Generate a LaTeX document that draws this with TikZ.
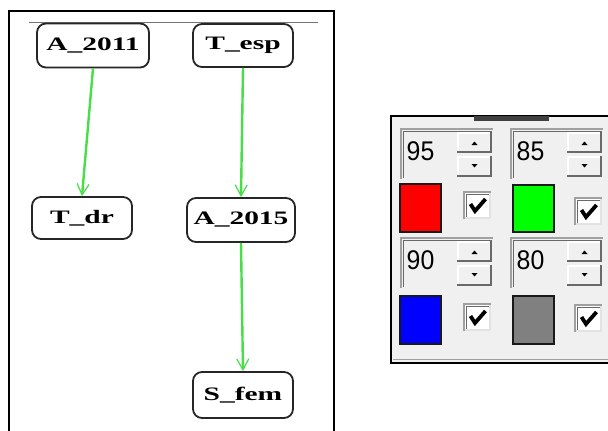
\documentclass[tikz,border=0pt]{standalone}
\usepackage{graphicx}
\usepackage{fontspec}
\setmainfont{Liberation Serif}
\newfontfamily\uifont{Liberation Sans}
\usetikzlibrary{arrows.meta}

\definecolor{edgegreen}{RGB}{72,222,72}
\definecolor{panel}{RGB}{240,240,240}
\definecolor{bevel}{RGB}{160,160,160}
\definecolor{bevdark}{RGB}{105,105,105}
\definecolor{bevlight}{RGB}{227,227,227}

\begin{document}
\begin{tikzpicture}[x=1pt,y=-1pt,
  var/.style={draw=black!85,line width=1.8pt,rounded corners=9pt,fill=white,
    inner sep=0pt,font=\fontsize{19}{19}\selectfont\bfseries},
  link/.style={draw=edgegreen,line width=2.4pt,
    -{Straight Barb[length=11pt,width=12pt,line width=1.2pt]}},
  swatch/.style={draw=black!90,line width=1.5pt},
  spinner/.pic={
    % sunken frame of the number field
    \draw[bevel,line width=2.5pt] (1.2,51) -- (1.2,1.2) -- (93,1.2);
    \draw[bevdark,line width=1pt] (3,50) -- (3,3) -- (92,3);
    \node[anchor=base west,inner sep=0pt,
      font=\uifont\fontsize{27}{27}\selectfont] (-num) at (6.5,32.5) {\scalebox{0.92}[1]{#1}};
    % up button
    \fill[panel] (57,4) rectangle (92,25);
    \draw[white,line width=1.5pt] (57.75,25) -- (57.75,4.75) -- (92,4.75);
    \draw[bevdark,line width=2pt] (57,24) -- (91,24) -- (91,4);
    \fill (71.5,17) -- (77.5,17) -- (74.5,13.5) -- cycle;
    % down button
    \fill[panel] (57,28) rectangle (92,49);
    \draw[white,line width=1.5pt] (57.75,49) -- (57.75,28.75) -- (92,28.75);
    \draw[bevdark,line width=2pt] (57,48) -- (91,48) -- (91,28);
    \fill (71.5,36) -- (77.5,36) -- (74.5,39.5) -- cycle;
  },
  checkbox/.pic={
    \fill[white] (0,0) rectangle (28,28);
    \draw[bevlight,line width=2pt] (0,27) -- (27,27) -- (27,0);
    \draw[bevel,line width=2.5pt] (1.2,28) -- (1.2,1.2) -- (28,1.2);
    \draw[bevdark,line width=1.2pt] (3.5,26) -- (3.5,3.5) -- (26,3.5);
    \draw[black,line width=3.8pt,line join=miter] (7.5,13) -- (12,20) -- (22.5,8);
  }
]
\useasboundingbox (0,0) rectangle (608,431);
\fill[white] (0,0) rectangle (608,431);

% ---- graph window ----
\draw[line width=1.5pt] (9,432) -- (9,11) -- (334,11) -- (334,432);
\draw[black!55,line width=1.2pt] (29,22.5) -- (318,22.5);

\node[var,minimum width=112pt,minimum height=44pt] (a2011) at (93,45.5) {\scalebox{1.55}[1]{A\_2011}};
\node[var,minimum width=100pt,minimum height=43pt] (tesp)  at (243,45.5) {\scalebox{1.55}[1]{T\_esp}};
\node[var,minimum width=100pt,minimum height=42pt] (tdr)   at (82,218) {\scalebox{1.55}[1]{T\_dr}};
\node[var,minimum width=108pt,minimum height=44pt] (a2015) at (241,220) {\scalebox{1.55}[1]{A\_2015}};
\node[var,minimum width=100pt,minimum height=46pt] (sfem)  at (243,395) {\scalebox{1.55}[1]{S\_fem}};

\draw[link] (a2011.south) -- (tdr.north);
\draw[link] (tesp.south) -- (a2015.north);
\draw[link] (a2015.south) -- (sfem.north);

% ---- colour settings panel ----
\fill[panel] (391,116) rectangle (612,363);
\draw[bevel,line width=1pt] (393,359.5) -- (612,359.5);
\draw[line width=1.5pt] (612,116) -- (391,116) -- (391,363) -- (612,363);
\fill[black!75] (474,116) rectangle (549,120.5);

\pic (s95) at (400,128) {spinner=95};
\pic (s85) at (510,128) {spinner=85};
\pic (s90) at (400,237) {spinner=90};
\pic (s80) at (510,237) {spinner=80};

\draw[swatch,fill={rgb,255:red,255;green,0;blue,0}] (400,184) rectangle (441,232);
\draw[swatch,fill={rgb,255:red,0;green,255;blue,0}] (513,185) rectangle (554,232);
\draw[swatch,fill={rgb,255:red,0;green,0;blue,255}] (400,296) rectangle (441,344);
\draw[swatch,fill={rgb,255:red,128;green,128;blue,128}] (513,296) rectangle (554,344);

\pic (c1) at (463,191) {checkbox};
\pic (c2) at (574,197) {checkbox};
\pic (c3) at (463,303) {checkbox};
\pic (c4) at (574,304) {checkbox};
\end{tikzpicture}
\end{document}
